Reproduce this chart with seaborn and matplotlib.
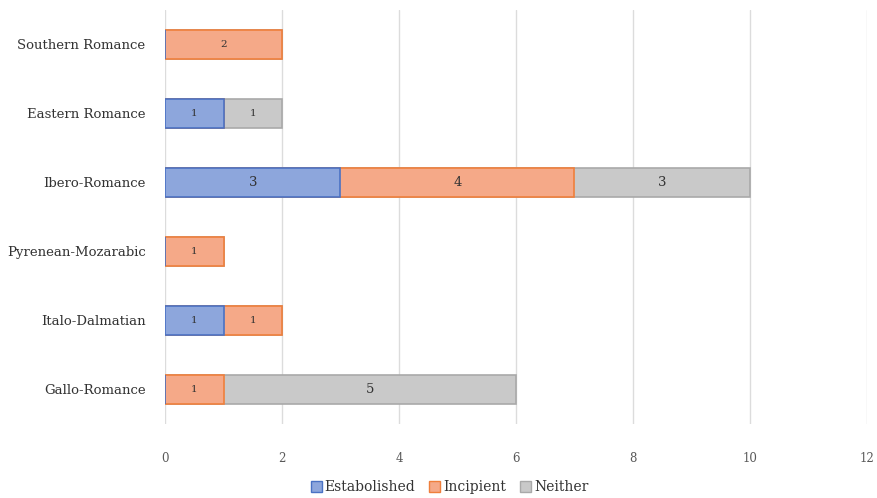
import matplotlib
matplotlib.use("Agg")
import matplotlib.pyplot as plt
import seaborn as sns
import pandas as pd
import numpy as np
from matplotlib.patches import Patch

groups = ["Southern Romance", "Eastern Romance", "Ibero-Romance",
          "Pyrenean-Mozarabic", "Italo-Dalmatian", "Gallo-Romance"]
established = [0, 1, 3, 0, 1, 0]
incipient = [2, 0, 4, 1, 1, 1]
neither = [0, 1, 3, 0, 0, 5]
x_ticks = [0, 2, 4, 6, 8, 10, 12]

series_names = ["Estabolished", "Incipient", "Neither"]
fills = ["#8da6dc", "#f5a988", "#c9c9c9"]
edges = ["#4a72c4", "#ef7f3c", "#a9a9a9"]

sns.set_style("white")
plt.rcParams["font.family"] = ["DejaVu Serif"]

est = np.array(established)
inc = np.array(incipient)
nei = np.array(neither)
cum_est = est
cum_inc = est + inc
cum_all = est + inc + nei

df = pd.DataFrame({"group": groups, "c1": cum_est, "c2": cum_inc, "c3": cum_all})

fig = plt.figure(figsize=(8.78, 4.98), dpi=100)
ax = fig.add_axes([0.188, 0.149, 0.799, 0.831])

# stacked bars: draw cumulative totals from the outermost segment inward
for col, fc, ec in zip(["c3", "c2", "c1"], fills[::-1], edges[::-1]):
    sns.barplot(data=df, x=col, y="group", orient="h", color=fc,
                edgecolor=ec, linewidth=1.2, width=0.42, saturation=1,
                ax=ax, zorder=3)

# segment value labels
for i in range(len(groups)):
    start = 0
    for vals in (est, inc, nei):
        v = vals[i]
        if v > 0:
            size = 7.5 if v <= 2 else 9.5
            ax.text(start + v / 2, i, str(v), ha="center", va="center",
                    fontsize=size, color="#333333", zorder=5)
        start += v

ax.set_xlim(0, 12)
ax.set_ylim(5.5, -0.5)
ax.set_xticks(x_ticks)
ax.set_xticklabels([str(t) for t in x_ticks], fontsize=8.5, color="#595959")
ax.tick_params(axis="x", length=0, pad=20)
ax.tick_params(axis="y", length=0, pad=14, labelsize=9.5, labelcolor="#333333")
ax.set_xlabel("")
ax.set_ylabel("")
ax.xaxis.grid(True, color="#dcdcdc", linewidth=1.0, zorder=0)
ax.set_axisbelow(True)
for s in ax.spines.values():
    s.set_visible(False)

handles = [Patch(facecolor=f, edgecolor=e, linewidth=1.0) for f, e in zip(fills, edges)]
fig.legend(handles, series_names, loc="center", bbox_to_anchor=(0.512, 0.022),
           ncol=3, frameon=False, fontsize=10, handlelength=0.8, handleheight=0.8,
           handletextpad=0.2, columnspacing=1.0, labelcolor="#333333")

fig.savefig("out.png", dpi=100)
